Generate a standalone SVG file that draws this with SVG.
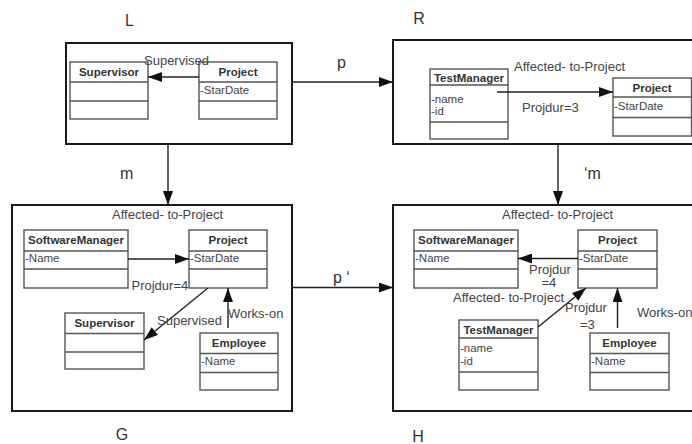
<svg xmlns="http://www.w3.org/2000/svg" width="692" height="444" viewBox="0 0 692 444">
<defs>
<marker id="ah" markerUnits="userSpaceOnUse" markerWidth="14" markerHeight="10" refX="14" refY="5" orient="auto">
<path d="M0,0 L14,5 L0,10 z" fill="#111"/>
</marker>
<style>
.frame{fill:none;stroke:#1a1a1a;stroke-width:2}
.cls{fill:#fff;stroke:#555;stroke-width:1.4}
.sep{stroke:#555;stroke-width:1.4}
.hd{font-family:"Liberation Sans",Arial,sans-serif;font-size:11.5px;font-weight:bold;fill:#333;text-anchor:middle}
.at{font-family:"Liberation Sans",Arial,sans-serif;font-size:11.5px;fill:#444}
.lb{font-family:"Liberation Sans",Arial,sans-serif;font-size:13px;fill:#444}
.ttl{font-family:"Liberation Sans",Arial,sans-serif;font-size:16px;fill:#333}
.mid{text-anchor:middle}
.con{stroke:#222;stroke-width:1.4;fill:none;marker-end:url(#ah)}
</style>
</defs>
<rect width="692" height="444" fill="#fff"/>

<g id="titles">
<text class="ttl mid" x="129.5" y="26">L</text>
<text class="ttl mid" x="419" y="24">R</text>
<text class="ttl mid" x="122" y="440">G</text>
<text class="ttl mid" x="418" y="442">H</text>
</g>

<g id="L">
<rect class="frame" x="66" y="43" width="226" height="101"/>
<g id="L-supervisor">
<rect class="cls" x="70" y="62" width="78" height="57"/>
<line class="sep" x1="70" y1="82" x2="148" y2="82"/>
<line class="sep" x1="70" y1="101" x2="148" y2="101"/>
<text class="hd" x="109" y="75.5">Supervisor</text>
</g>
<g id="L-project">
<rect class="cls" x="199" y="62" width="78" height="57"/>
<line class="sep" x1="199" y1="82" x2="277" y2="82"/>
<line class="sep" x1="199" y1="101" x2="277" y2="101"/>
<text class="hd" x="238" y="75.5">Project</text>
<text class="at" x="200" y="93.5">-StarDate</text>
</g>
</g>

<g id="R">
<rect class="frame" x="393" y="40" width="310" height="104"/>
<g id="R-testmanager">
<rect class="cls" x="430" y="69" width="78" height="70"/>
<line class="sep" x1="430" y1="85" x2="508" y2="85"/>
<line class="sep" x1="430" y1="122" x2="508" y2="122"/>
<text class="hd" x="469" y="82">TestManager</text>
<text class="at" x="431" y="102.5">-name</text>
<text class="at" x="431" y="114.5">-id</text>
</g>
<g id="R-project">
<rect class="cls" x="613" y="78" width="78.5" height="58"/>
<line class="sep" x1="613" y1="97" x2="691.5" y2="97"/>
<line class="sep" x1="613" y1="117.5" x2="691.5" y2="117.5"/>
<text class="hd" x="652" y="92">Project</text>
<text class="at" x="614" y="110">-StarDate</text>
</g>
</g>

<g id="G">
<rect class="frame" x="12" y="205" width="280" height="206"/>
<text class="lb" x="112" y="218.5">Affected- to-Project</text>
<g id="G-softwaremanager">
<rect class="cls" x="24" y="230" width="104" height="58"/>
<line class="sep" x1="24" y1="251" x2="128" y2="251"/>
<line class="sep" x1="24" y1="269" x2="128" y2="269"/>
<text class="hd" x="76" y="244">SoftwareManager</text>
<text class="at" x="25" y="262">-Name</text>
</g>
<g id="G-project">
<rect class="cls" x="189" y="230" width="78" height="58"/>
<line class="sep" x1="189" y1="251" x2="267" y2="251"/>
<line class="sep" x1="189" y1="269" x2="267" y2="269"/>
<text class="hd" x="228" y="244">Project</text>
<text class="at" x="190" y="262">-StarDate</text>
</g>
<g id="G-supervisor">
<rect class="cls" x="65" y="313" width="79" height="56"/>
<line class="sep" x1="65" y1="333.5" x2="144" y2="333.5"/>
<line class="sep" x1="65" y1="352" x2="144" y2="352"/>
<text class="hd" x="104.5" y="327">Supervisor</text>
</g>
<g id="G-employee">
<rect class="cls" x="200" y="333" width="78" height="57"/>
<line class="sep" x1="200" y1="353.5" x2="278" y2="353.5"/>
<line class="sep" x1="200" y1="372.5" x2="278" y2="372.5"/>
<text class="hd" x="239" y="347">Employee</text>
<text class="at" x="201" y="365">-Name</text>
</g>
</g>

<g id="H">
<rect class="frame" x="393" y="205" width="310" height="206"/>
<text class="lb" x="502" y="218.5">Affected- to-Project</text>
<g id="H-softwaremanager">
<rect class="cls" x="414" y="230" width="104" height="58"/>
<line class="sep" x1="414" y1="251" x2="518" y2="251"/>
<line class="sep" x1="414" y1="269" x2="518" y2="269"/>
<text class="hd" x="466" y="244">SoftwareManager</text>
<text class="at" x="415" y="262">-Name</text>
</g>
<g id="H-project">
<rect class="cls" x="578" y="230" width="79" height="58"/>
<line class="sep" x1="578" y1="251" x2="657" y2="251"/>
<line class="sep" x1="578" y1="269" x2="657" y2="269"/>
<text class="hd" x="617.5" y="244">Project</text>
<text class="at" x="579" y="262">-StarDate</text>
</g>
<g id="H-testmanager">
<rect class="cls" x="459" y="320" width="79" height="70"/>
<line class="sep" x1="459" y1="338" x2="538" y2="338"/>
<line class="sep" x1="459" y1="372" x2="538" y2="372"/>
<text class="hd" x="498.5" y="334">TestManager</text>
<text class="at" x="460" y="352">-name</text>
<text class="at" x="460" y="365">-id</text>
</g>
<g id="H-employee">
<rect class="cls" x="590" y="333" width="79" height="57"/>
<line class="sep" x1="590" y1="353.5" x2="669" y2="353.5"/>
<line class="sep" x1="590" y1="372.5" x2="669" y2="372.5"/>
<text class="hd" x="629.5" y="347">Employee</text>
<text class="at" x="591" y="365">-Name</text>
</g>
</g>

<g id="connectors">
<line class="con" x1="199" y1="77" x2="148" y2="77"/>
<line class="con" x1="497" y1="92" x2="613" y2="92"/>
<line class="con" x1="292" y1="82" x2="393" y2="82"/>
<line class="con" x1="168" y1="144" x2="168" y2="205"/>
<line class="con" x1="558" y1="144" x2="558" y2="205"/>
<line class="con" x1="292" y1="287.5" x2="393" y2="287.5"/>
<line class="con" x1="128" y1="259" x2="189" y2="259"/>
<line class="con" x1="208" y1="288" x2="144" y2="340"/>
<line class="con" x1="228" y1="328" x2="228" y2="288"/>
<line class="con" x1="578" y1="258.5" x2="518" y2="258.5"/>
<line class="con" x1="538" y1="327" x2="586" y2="288"/>
<line class="con" x1="617.5" y1="328" x2="617.5" y2="288"/>
</g>

<g id="labels">
<text class="lb" x="144" y="64.5">Supervised</text>
<text class="lb" x="514" y="70.5">Affected- to-Project</text>
<text class="lb" x="522" y="111.5">Projdur=3</text>
<text class="ttl" x="337" y="68">p</text>
<text class="ttl" x="120" y="179">m</text>
<text class="ttl" x="584" y="179">‘m</text>
<text class="ttl" x="333" y="283">p ‘</text>
<text class="lb" x="131.5" y="290">Projdur=4</text>
<text class="lb" x="157" y="325">Supervised</text>
<text class="lb" x="228" y="318">Works-on</text>
<text class="lb" x="529" y="273.5">Projdur</text>
<text class="lb" x="541.5" y="287">=4</text>
<text class="lb" x="453" y="302">Affected- to-Project</text>
<text class="lb" x="565" y="312">Projdur</text>
<text class="lb" x="580" y="328.5">=3</text>
<text class="lb" x="637" y="317">Works-on</text>
</g>
</svg>
